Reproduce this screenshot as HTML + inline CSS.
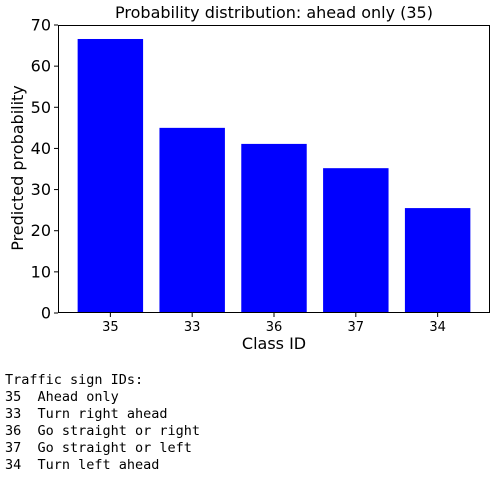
<!DOCTYPE html>
<html><head><meta charset="utf-8"><style>
body{margin:0;width:500px;height:478px;background:#fff;overflow:hidden}
svg text{font-family:"DejaVu Sans","Liberation Sans",sans-serif}
pre{position:absolute;left:5px;top:372px;margin:0;font-family:"DejaVu Sans Mono","Liberation Mono",monospace;font-size:13.5px;line-height:17px;color:#000}
</style></head><body>
<svg id="chart" width="500" height="370" style="position:absolute;left:0;top:0">
<text x="274" y="18" font-size="16" text-anchor="middle">Probability distribution: ahead only (35)</text>
<g id="plot"></g>
<text x="274" y="349" font-size="16" text-anchor="middle">Class ID</text>
<text transform="translate(23,168) rotate(-90)" font-size="16" text-anchor="middle">Predicted probability</text>
</svg>
<pre>Traffic sign IDs:
35  Ahead only
33  Turn right ahead
36  Go straight or right
37  Go straight or left
34  Turn left ahead</pre>
<script>
const categories=["35","33","36","37","34"];
const values=[66.6,45.0,41.1,35.2,25.5];
const yTicks=[0,10,20,30,40,50,60,70];
const L=58,R=490,T=25,B=313,ymax=70,x0=-0.64,x1=4.64;
const sx=v=>L+(v-x0)/(x1-x0)*(R-L);
const sy=v=>B-v/ymax*(B-T);
const g=document.getElementById('plot');
const NS="http://www.w3.org/2000/svg";
function mk(t,a){const e=document.createElementNS(NS,t);for(const k in a)e.setAttribute(k,a[k]);g.appendChild(e);return e;}
values.forEach((v,i)=>{
 const r=mk('rect',{x:sx(i-0.4),y:sy(v),width:sx(0.4)-sx(-0.4),height:B-sy(v),fill:'#0000ff'});
 
 
 const tk=mk('line',{x1:sx(i),x2:sx(i),y1:B,y2:B+4,stroke:'#000','stroke-width':1});
 
 
 const t=mk('text',{x:sx(i),y:B+18,'font-size':13,'text-anchor':'middle'});
 t.textContent=categories[i];
 
 
});
yTicks.forEach(v=>{
 const tk=mk('line',{x1:L-4,x2:L,y1:sy(v),y2:sy(v),stroke:'#000','stroke-width':1});
 
 
 const t=mk('text',{x:L-7,y:sy(v)+5.5,'font-size':16,'text-anchor':'end'});
 t.textContent=v;
 
 
});
const f=mk('rect',{x:L+0.5,y:T+0.5,width:R-L-1,height:B-T-1,fill:'none',stroke:'#000','stroke-width':1});


</script>
</body></html>
